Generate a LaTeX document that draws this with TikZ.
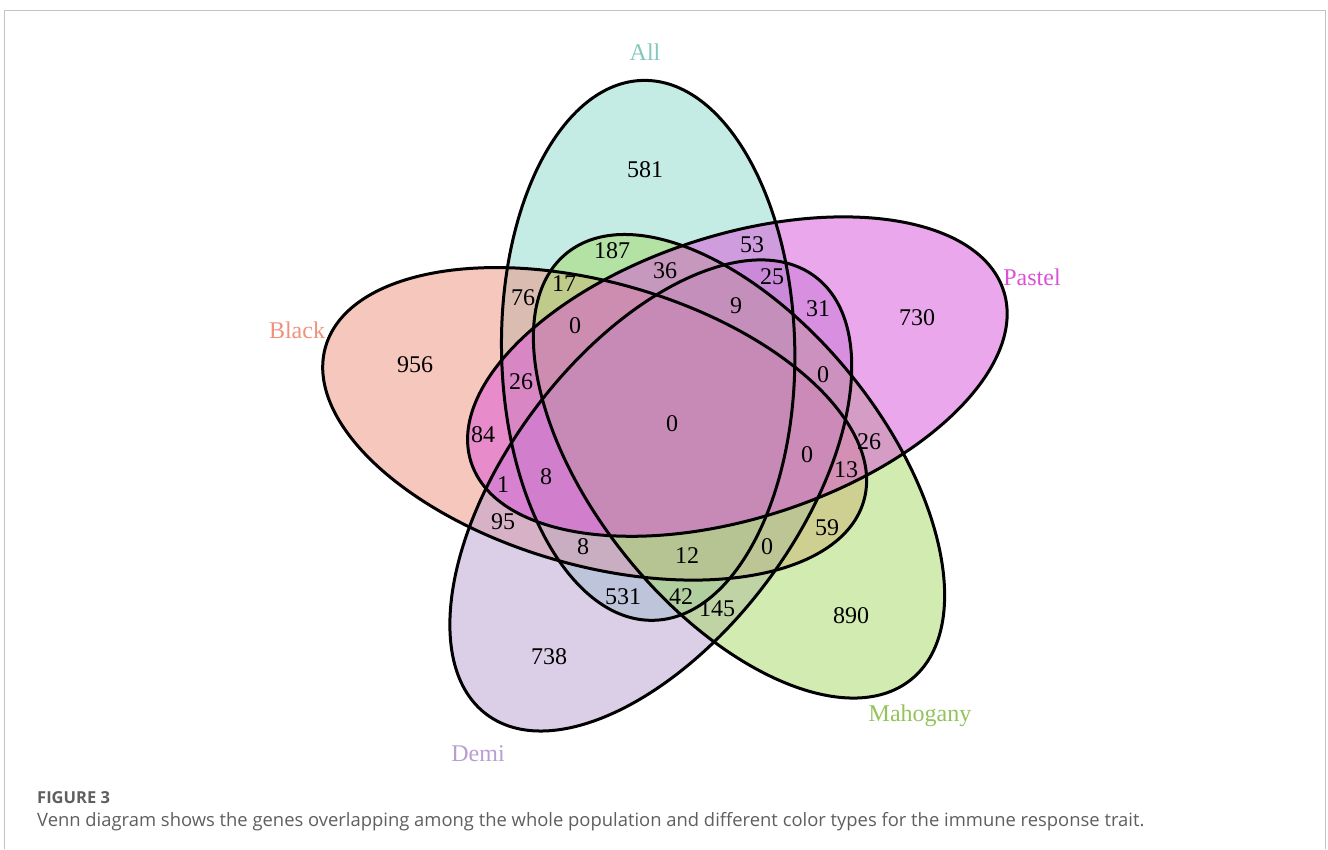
\documentclass[tikz,border=0pt]{standalone}
\usepackage{fontspec}
\setmainfont{Liberation Serif}
\newfontfamily\capfont{Open Sans}
\definecolor{allc}{RGB}{141,217,205}
\definecolor{blackc}{RGB}{239,145,125}
\definecolor{demic}{RGB}{185,159,209}
\definecolor{mahogc}{RGB}{165,217,101}
\definecolor{pastelc}{RGB}{217,81,217}
\definecolor{framec}{RGB}{195,195,195}
\definecolor{capc}{RGB}{95,95,95}
\tikzset{
  num/.style={inner sep=0pt, font=\fontsize{24}{24}\selectfont, text=black},
  setlabel/.style={inner sep=0pt, anchor=base, font=\fontsize{24}{24}\selectfont},
  outline/.style={draw=black, line width=3pt},
}
\begin{document}
\begin{tikzpicture}[x=1pt,y=1pt]
\useasboundingbox (0,0) rectangle (1328,-849);
\fill[white] (0,0) rectangle (1328,-849);
\draw[framec, line width=1pt] (4,-849) -- (4,-10.7) -- (1325,-10.7) -- (1325,-849);

\begin{scope}[shift={(674,-422.5)}, xscale=1.04]
  \foreach \i/\col in {0/allc,4/blackc,3/demic,2/mahogc,1/pastelc} {
    \pgfmathsetmacro\al{-19+72*\i}
    \pgfmathsetmacro\ro{1-72*\i}
    \begin{scope}[shift={({76.3*sin(\al)},{76.3*cos(\al)})}, rotate=\ro]
      \fill[\col, fill opacity=0.5] (0,0) ellipse (141 and 270);
    \end{scope}
  }
  \foreach \i in {0,1,2,3,4} {
    \pgfmathsetmacro\al{-19+72*\i}
    \pgfmathsetmacro\ro{1-72*\i}
    \begin{scope}[shift={({76.3*sin(\al)},{76.3*cos(\al)})}, rotate=\ro]
      \draw[outline] (0,0) ellipse (141 and 270);
    \end{scope}
  }
\end{scope}

% set labels
\node[setlabel, text=allc!92!black] (lAll) at (645,-60) {All};
\node[setlabel, text=pastelc] (lPastel) at (1032,-285) {Pastel};
\node[setlabel, text=mahogc!90!black] (lMahogany) at (920,-721) {Mahogany};
\node[setlabel, text=demic] (lDemi) at (478,-761) {Demi};
\node[setlabel, text=blackc] (lBlack) at (297,-338) {Black};

% counts
\node[num] (a581) at (645,-170) {581};
\node[num] (a187) at (612,-251) {187};
\node[num] (a53) at (752,-245) {53};
\node[num] (a36) at (665,-271) {36};
\node[num] (a17) at (564,-284) {17};
\node[num] (a25) at (772,-277) {25};
\node[num] (a76) at (523,-298) {76};
\node[num] (a9) at (736,-306) {9};
\node[num] (a31) at (818,-309) {31};
\node[num] (a730) at (917,-318) {730};
\node[num] (a0a) at (575,-326) {0};
\node[num] (a956) at (415,-365) {956};
\node[num] (a26a) at (521,-382) {26};
\node[num] (a0b) at (823,-375) {0};
\node[num] (a0c) at (672,-424) {0};
\node[num] (a84) at (483,-435) {84};
\node[num] (a26b) at (869,-442) {26};
\node[num] (a0d) at (807,-455) {0};
\node[num] (a8a) at (546,-477) {8};
\node[num] (a13) at (846,-470) {13};
\node[num] (a1) at (503,-485) {1};
\node[num] (a95) at (503,-522) {95};
\node[num] (a59) at (827,-528) {59};
\node[num] (a8b) at (583,-547) {8};
\node[num] (a12) at (687,-556) {12};
\node[num] (a0e) at (767,-547) {0};
\node[num] (a531) at (623,-597) {531};
\node[num] (a42) at (681,-597) {42};
\node[num] (a145) at (717,-609) {145};
\node[num] (a890) at (851,-616) {890};
\node[num] (a738) at (549,-657) {738};

% caption
\node[anchor=base west, inner sep=0pt, text=capc, font=\capfont\bfseries\fontsize{16.5}{18}\selectfont] (figlab) at (37,-803) {FIGURE 3};
\node[anchor=base west, inner sep=0pt, text=capc, font=\capfont\fontsize{18.4}{21}\selectfont] (figcap) at (37,-826) {Venn diagram shows the genes overlapping among the whole population and different color types for the immune response trait.};
\end{tikzpicture}
\end{document}
